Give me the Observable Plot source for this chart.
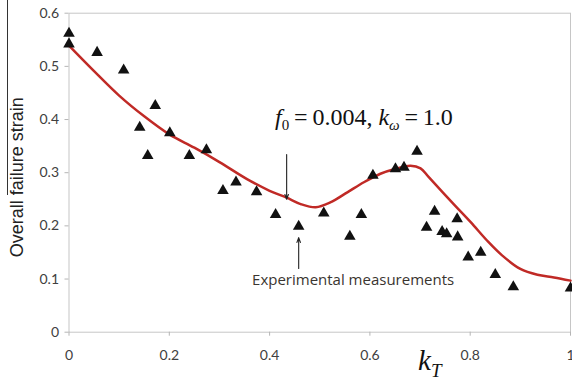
<!DOCTYPE html>
<html><head><meta charset="utf-8">
<script src="https://cdn.jsdelivr.net/npm/d3@7"></script>
<script src="https://cdn.jsdelivr.net/npm/@observablehq/plot@0.6"></script>
<style>
body{margin:0;background:#fff;}
#chart{position:relative;width:572px;height:384px;overflow:hidden;}
</style>
</head><body><div id="chart"></div>
<script>
// Experimental measurements (triangles)
const measKT = [0, 0, 0.056, 0.109, 0.141, 0.157, 0.172, 0.201, 0.240, 0.274, 0.307, 0.333, 0.374, 0.412, 0.458, 0.508, 0.560, 0.583, 0.606, 0.651, 0.668, 0.694, 0.713, 0.729, 0.744, 0.753, 0.774, 0.775, 0.796, 0.821, 0.850, 0.886, 1.0];
const measStrain = [0.562, 0.542, 0.526, 0.493, 0.385, 0.332, 0.426, 0.375, 0.332, 0.343, 0.266, 0.282, 0.264, 0.221, 0.199, 0.224, 0.180, 0.221, 0.295, 0.307, 0.310, 0.340, 0.197, 0.227, 0.189, 0.185, 0.213, 0.179, 0.141, 0.150, 0.108, 0.085, 0.083];
// Model curve (f0 = 0.004, k_omega = 1.0)
const modelKT = [0, 0.05, 0.1, 0.15, 0.2, 0.25, 0.3, 0.355, 0.4, 0.434, 0.462, 0.492, 0.521, 0.555, 0.588, 0.621, 0.65, 0.681, 0.701, 0.717, 0.767, 0.801, 0.834, 0.863, 0.9, 0.934, 0.967, 1.0];
const modelStrain = [0.539, 0.491, 0.445, 0.406, 0.372, 0.347, 0.320, 0.288, 0.266, 0.253, 0.241, 0.235, 0.244, 0.263, 0.282, 0.298, 0.307, 0.313, 0.308, 0.292, 0.241, 0.207, 0.172, 0.145, 0.119, 0.108, 0.103, 0.097];
// Ticks
const xTicks = [0, 0.2, 0.4, 0.6, 0.8, 1];
const xTickLabels = ["0", "0.2", "0.4", "0.6", "0.8", "1"];
const yTicks = [0, 0.1, 0.2, 0.3, 0.4, 0.5, 0.6];
const yTickLabels = ["0", "0.1", "0.2", "0.3", "0.4", "0.5", "0.6"];
// Texts
const yLabel = "Overall failure strain";
const measLabel = "Experimental measurements";
// Annotation arrows (data space)
const arrowX = [0.434, 0.458];
const arrowFrom = [0.334, 0.120];
const arrowTo = [0.250, 0.178];
const measLabelPos = [0.365, 0.097];
const formulaPos = [0.412, 0.389];
const kTPos = 0.697;

const meas = measKT.map((x, i) => ({x, y: measStrain[i]}));
const model = modelKT.map((x, i) => ({x, y: modelStrain[i]}));
const arrows = arrowX.map((x, i) => ({x, y1: arrowFrom[i], y2: arrowTo[i]}));
const lab = (ticks, labels) => d => labels[ticks.findIndex(t => Math.abs(t - d) < 1e-9)];

const plot = Plot.plot({
  width: 572, height: 384,
  marginLeft: 68.5, marginRight: 2, marginTop: 12.7, marginBottom: 52.3,
  style: {fontFamily: "Lato, 'Open Sans', sans-serif", fontSize: "14px", background: "#fff", color: "#404040"},
  x: {domain: [0, 1]},
  y: {domain: [0, 0.6]},
  marks: [
    Plot.frame({stroke: "#c6c6c6"}),
    Plot.axisX({ticks: xTicks, tickFormat: lab(xTicks, xTickLabels), tickSize: 4, tickPadding: 14, stroke: "#b5b5b5", fill: "#404040", label: null}),
    Plot.axisY({ticks: yTicks, tickFormat: lab(yTicks, yTickLabels), tickSize: 4, tickPadding: 6, stroke: "#b5b5b5", fill: "#404040", label: null}),
    Plot.line(model, {x: "x", y: "y", stroke: "#c02a26", strokeWidth: 2.5, curve: "catmull-rom"}),
    Plot.dot(meas, {x: "x", y: "y", symbol: "triangle", r: 4.3, fill: "#111", stroke: null}),
    Plot.arrow(arrows, {x1: "x", x2: "x", y1: "y1", y2: "y2", stroke: "#222", strokeWidth: 1.1, headLength: 7, headAngle: 40}),
    Plot.text([measLabel], {x: () => measLabelPos[0], y: () => measLabelPos[1], text: d => d, textAnchor: "start", fill: "#3a3530", fontSize: 15, fontFamily: "'Open Sans', Lato, sans-serif"})
  ]
});
document.getElementById("chart").appendChild(plot);

const svg = d3.select(plot);
const xs = plot.scale("x"), ys = plot.scale("y");

// Y axis title
svg.append("text")
  .attr("transform", `translate(23,${(ys.apply(0) + ys.apply(0.6)) / 2 + 5}) rotate(-90)`)
  .attr("text-anchor", "middle")
  .attr("font-family", "'Liberation Sans', Arial, sans-serif")
  .attr("font-size", 18)
  .attr("fill", "#222")
  .text(yLabel);
svg.append("line").attr("x1", 7.5).attr("x2", 7.5).attr("y1", 0).attr("y2", 195).attr("stroke", "#333").attr("stroke-width", 1);

// Formula annotation
const f = svg.append("text")
  .attr("x", xs.apply(formulaPos[0])).attr("y", ys.apply(formulaPos[1]))
  .attr("text-anchor", "start")
  .attr("font-family", "'Liberation Serif', 'Times New Roman', serif")
  .attr("font-size", 24).attr("fill", "#111");
f.append("tspan").attr("font-style", "italic").text("f");
f.append("tspan").attr("font-size", 15).attr("dy", 5).text("0");
f.append("tspan").attr("dy", -5).text("\u2009=\u20090.004, ");
f.append("tspan").attr("font-style", "italic").text("k");
f.append("tspan").attr("font-size", 15).attr("font-style", "italic").attr("dy", 5).text("\u03c9");
f.append("tspan").attr("dy", -5).text("\u2009=\u20091.0");

// x axis title k_T
const k = svg.append("text")
  .attr("x", xs.apply(kTPos)).attr("y", ys.apply(0) + 38)
  .attr("text-anchor", "start")
  .attr("font-family", "'Liberation Serif', 'Times New Roman', serif")
  .attr("font-size", 29).attr("fill", "#111");
k.append("tspan").attr("font-style", "italic").text("k");
k.append("tspan").attr("font-style", "italic").attr("font-size", 19).attr("dy", 7).text("T");
</script>
</body></html>
